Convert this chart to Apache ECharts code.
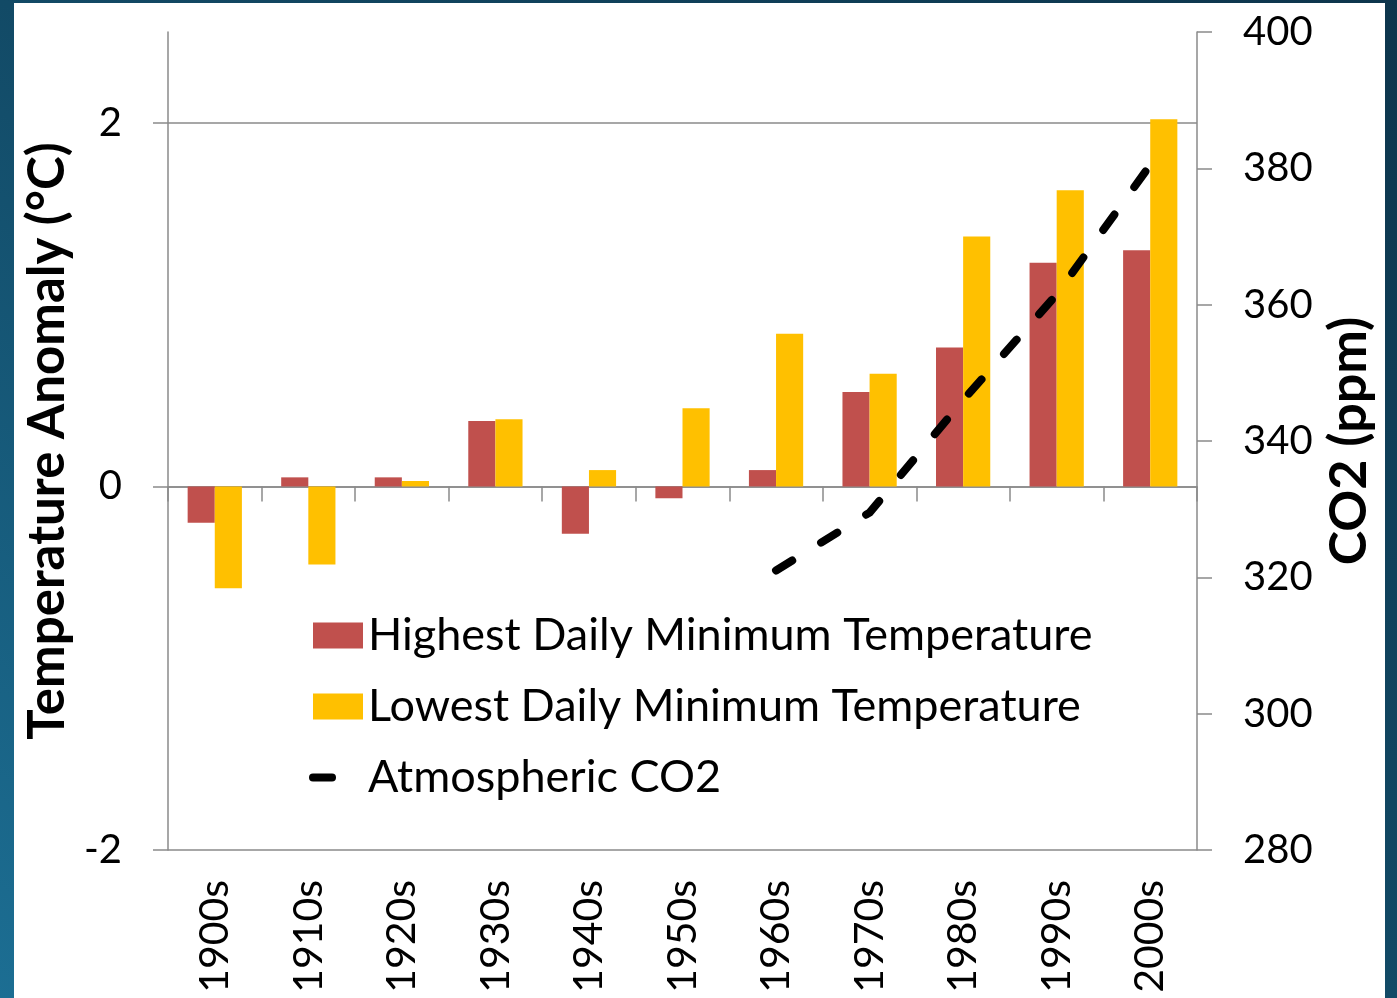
<!DOCTYPE html>
<html>
<head>
<meta charset="utf-8">
<script src="https://cdn.jsdelivr.net/npm/echarts@6/dist/echarts.min.js"></script>
<style>
  html, body { margin: 0; padding: 0; width: 1397px; height: 998px; overflow: hidden; }
  body { background: linear-gradient(to bottom left, #0d354c 0%, #124a66 50%, #1c6e93 100%); position: relative; }
  #panel { position: absolute; left: 14px; top: 3px; width: 1371px; height: 995px; background: #ffffff; }
  #chart { position: absolute; left: 0; top: 0; width: 1397px; height: 998px; }
</style>
</head>
<body>
<div id="panel"></div>
<div id="chart"></div>
<script>
// Decades on the category axis
const decades = ['1900s', '1910s', '1920s', '1930s', '1940s', '1950s', '1960s', '1970s', '1980s', '1990s', '2000s'];

// Temperature anomalies (°C) per decade
const highestDailyMin = [-0.20, 0.05, 0.05, 0.36, -0.26, -0.065, 0.09, 0.52, 0.765, 1.23, 1.30];
const lowestDailyMin  = [-0.56, -0.43, 0.03, 0.37, 0.09, 0.43, 0.84, 0.62, 1.375, 1.63, 2.02];

// Atmospheric CO2 (ppm), measured from the 1960s on
const co2 = [null, null, null, null, null, null, 321, 329.5, 346, 361.5, 380.5];

// Labelled ticks on the temperature axis
const tempTicks = [-2, 0, 2];

const FONT = 'Lato, "Open Sans", sans-serif';
const GRAY = '#8a8a8a';

const chart = echarts.init(document.getElementById('chart'), null, { renderer: 'canvas' });

chart.setOption({
  backgroundColor: 'transparent',
  animation: false,
  textStyle: { fontFamily: FONT, color: '#000' },
  grid: { left: 168, right: 200, top: 32, bottom: 148, containLabel: false },
  legend: {
    orient: 'vertical',
    left: 309,
    top: 613,
    padding: 0,
    itemWidth: 50,
    itemHeight: 26,
    itemGap: 26,
    selectedMode: false,
    textStyle: { fontFamily: FONT, fontSize: 45, lineHeight: 45, color: '#000' },
    lineStyle: { width: 8, type: 'inherit', cap: 'round' },
    data: [
      { name: 'Highest Daily Minimum Temperature', icon: 'rect' },
      { name: 'Lowest Daily Minimum Temperature', icon: 'rect' },
      { name: 'Atmospheric CO2' }
    ]
  },
  xAxis: [
    {
      // labels along the bottom of the plot
      type: 'category',
      data: decades,
      position: 'bottom',
      axisLine: { show: false, onZero: false },
      axisTick: { show: false },
      axisLabel: { rotate: 90, margin: 30, fontSize: 41, color: '#000', fontFamily: FONT },
      splitLine: { show: false }
    },
    {
      // axis line and ticks sitting on the zero anomaly line
      type: 'category',
      data: decades,
      position: 'bottom',
      axisLine: { show: true, onZero: true, onZeroAxisIndex: 0, lineStyle: { color: GRAY, width: 1.5 } },
      axisTick: { show: true, length: 15, inside: false, lineStyle: { color: GRAY, width: 1.5 } },
      axisLabel: { show: false },
      splitLine: { show: false }
    }
  ],
  yAxis: [
    {
      type: 'value',
      min: -2,
      max: 2.5,
      position: 'left',
      name: 'Temperature Anomaly (°C)',
      nameLocation: 'middle',
      nameRotate: 90,
      nameGap: 83,
      nameTextStyle: { fontFamily: FONT, fontSize: 51, fontWeight: 'bold', color: '#000' },
      axisLine: { show: true, onZero: false, lineStyle: { color: GRAY, width: 1.5 } },
      axisTick: { show: true, length: 15, inside: false, customValues: tempTicks, lineStyle: { color: GRAY, width: 1.5 } },
      axisLabel: { customValues: tempTicks, margin: 46, fontSize: 40, color: '#000', fontFamily: FONT },
      splitLine: { show: true, lineStyle: { color: GRAY, width: 1.5 } }
    },
    {
      type: 'value',
      min: 280,
      max: 400,
      interval: 20,
      position: 'right',
      name: 'CO2 (ppm)',
      nameLocation: 'middle',
      nameRotate: 90,
      nameGap: 124,
      nameTextStyle: { fontFamily: FONT, fontSize: 52, fontWeight: 'bold', color: '#000' },
      axisLine: { show: true, onZero: false, lineStyle: { color: GRAY, width: 1.5 } },
      axisTick: { show: true, length: 15, inside: false, lineStyle: { color: GRAY, width: 1.5 } },
      axisLabel: { margin: 46, fontSize: 40, color: '#000', fontFamily: FONT },
      splitLine: { show: false }
    }
  ],
  series: [
    {
      name: 'Highest Daily Minimum Temperature',
      type: 'bar',
      xAxisIndex: 0,
      yAxisIndex: 0,
      data: highestDailyMin,
      barGap: '0%',
      barCategoryGap: '42%',
      itemStyle: { color: '#C0504D' }
    },
    {
      name: 'Lowest Daily Minimum Temperature',
      type: 'bar',
      xAxisIndex: 0,
      yAxisIndex: 0,
      data: lowestDailyMin,
      barGap: '0%',
      barCategoryGap: '42%',
      itemStyle: { color: '#FFC000' }
    },
    {
      name: 'Atmospheric CO2',
      type: 'line',
      xAxisIndex: 0,
      yAxisIndex: 1,
      data: co2,
      symbol: 'none',
      connectNulls: false,
      z: 5,
      lineStyle: { color: '#000', width: 8, type: [19, 34], cap: 'round', join: 'round' },
      // no point markers: keep the legend swatch to the dash alone
      itemStyle: { color: 'rgba(0,0,0,0)' }
    }
  ]
});
</script>
</body>
</html>
